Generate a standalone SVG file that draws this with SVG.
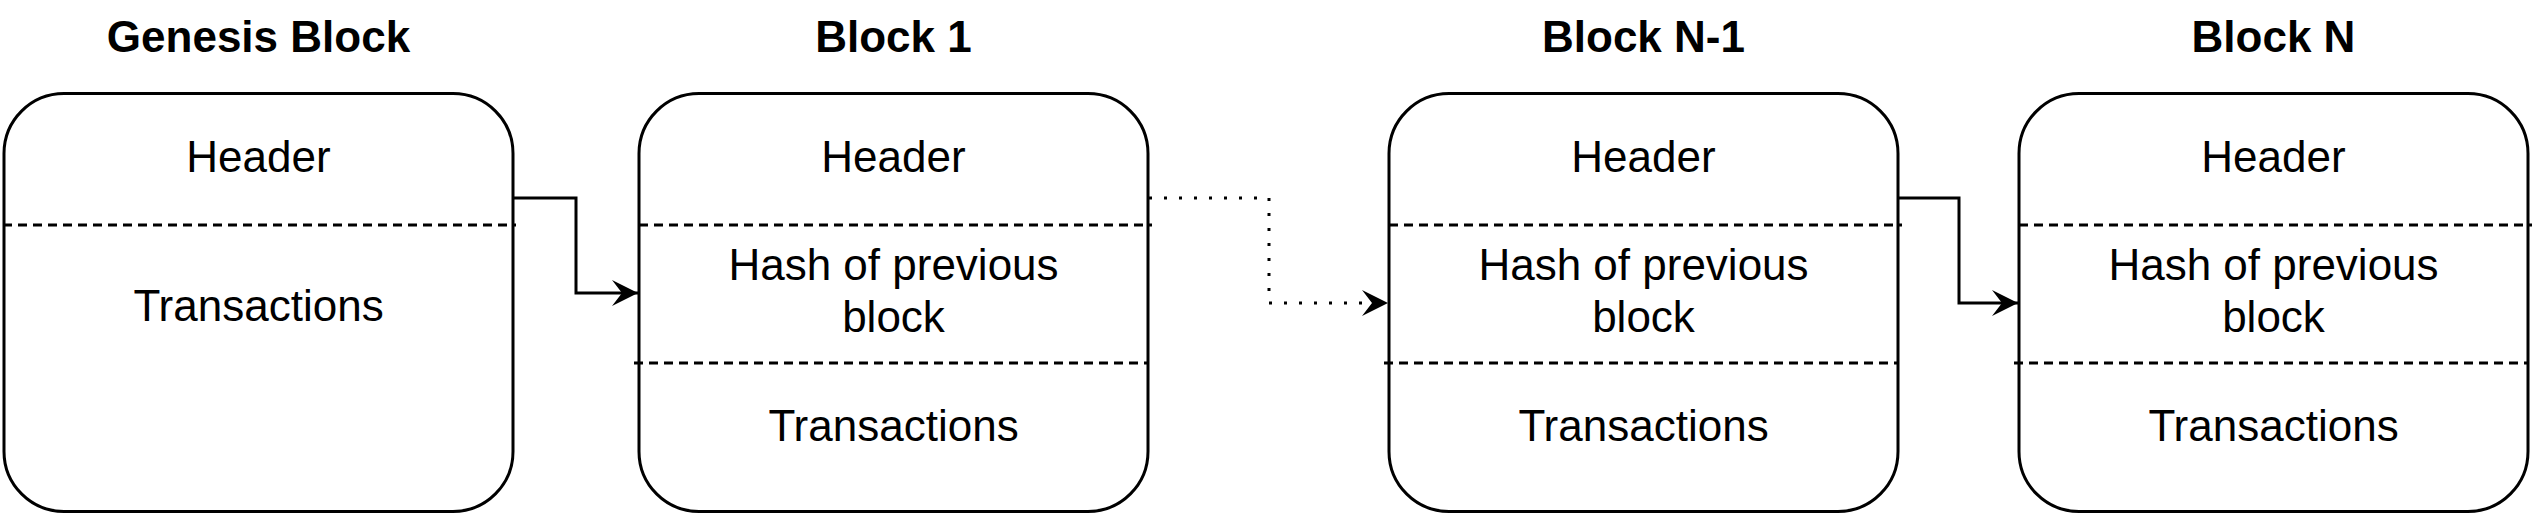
<svg xmlns="http://www.w3.org/2000/svg" width="2538" height="515" viewBox="0 0 2538 515">
<style>
.box{fill:#fff;stroke:#000;stroke-width:3}
.div{stroke:#000;stroke-width:3;stroke-dasharray:9 6;fill:none}
.t{font-family:"Liberation Sans",Arial,Helvetica,sans-serif;font-size:44px;text-anchor:middle;fill:#000}
.title{font-weight:bold}
.conn{fill:none;stroke:#000;stroke-width:3}
.dot{stroke-dasharray:3 12}
</style>
<defs>
<marker id="arr" markerUnits="userSpaceOnUse" markerWidth="30" markerHeight="30" viewBox="-27 -15 30 30" refX="0" refY="0" orient="auto">
<path d="M0,0 L-26,-13 L-16,0 L-26,13 Z" fill="#000"/>
</marker>
</defs>
<rect width="2538" height="515" fill="#fff"/>
<g id="genesis">
<text class="t title" x="258.5" y="52">Genesis Block</text>
<rect class="box" x="4" y="93.5" width="509" height="418" rx="60" ry="60"/>
<line class="div" x1="3" y1="225" x2="516" y2="225"/>
<text class="t" x="258.5" y="172">Header</text>
<text class="t" x="258.5" y="321">Transactions</text>
</g>
<g id="block1">
<text class="t title" x="893.5" y="52">Block 1</text>
<rect class="box" x="639" y="93.5" width="509" height="418" rx="60" ry="60"/>
<line class="div" x1="639" y1="225" x2="1152" y2="225"/>
<line class="div" x1="634" y1="363" x2="1148" y2="363"/>
<text class="t" x="893.5" y="172">Header</text>
<text class="t" x="893.5" y="280">Hash of previous</text>
<text class="t" x="893.5" y="332">block</text>
<text class="t" x="893.5" y="441">Transactions</text>
</g>
<g id="blockN1">
<text class="t title" x="1643.5" y="52">Block N-1</text>
<rect class="box" x="1389" y="93.5" width="509" height="418" rx="60" ry="60"/>
<line class="div" x1="1389" y1="225" x2="1902" y2="225"/>
<line class="div" x1="1384" y1="363" x2="1898" y2="363"/>
<text class="t" x="1643.5" y="172">Header</text>
<text class="t" x="1643.5" y="280">Hash of previous</text>
<text class="t" x="1643.5" y="332">block</text>
<text class="t" x="1643.5" y="441">Transactions</text>
</g>
<g id="blockN">
<text class="t title" x="2273.5" y="52">Block N</text>
<rect class="box" x="2019" y="93.5" width="509" height="418" rx="60" ry="60"/>
<line class="div" x1="2019" y1="225" x2="2532" y2="225"/>
<line class="div" x1="2014" y1="363" x2="2528" y2="363"/>
<text class="t" x="2273.5" y="172">Header</text>
<text class="t" x="2273.5" y="280">Hash of previous</text>
<text class="t" x="2273.5" y="332">block</text>
<text class="t" x="2273.5" y="441">Transactions</text>
</g>
<g id="connectors">
<path class="conn" d="M513,198 H576 V293 H638" marker-end="url(#arr)"/>
<path class="conn dot" d="M1149,198 H1269 V303 H1388" marker-end="url(#arr)"/>
<path class="conn" d="M1898,198 H1959 V303 H2018" marker-end="url(#arr)"/>
</g>
</svg>
